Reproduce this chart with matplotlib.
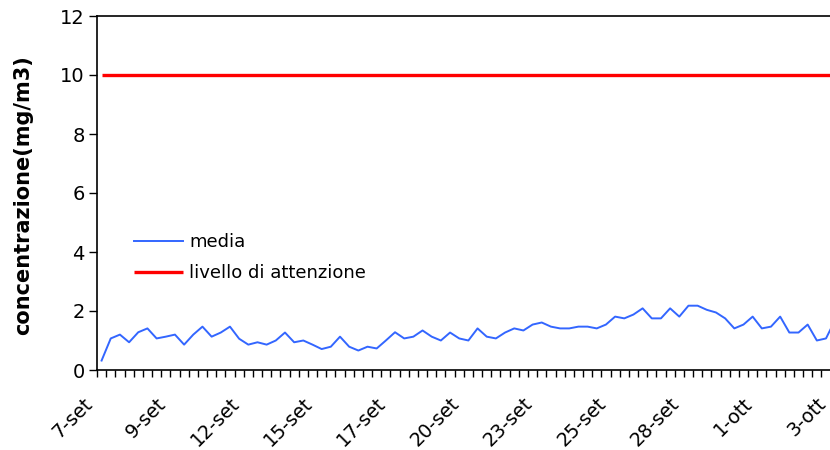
import matplotlib
matplotlib.use('Agg')
import matplotlib.pyplot as plt
import matplotlib.transforms as mtransforms
import numpy as np

# mean concentration, one value every 8 hours starting 7-set
media = [0.32, 1.07, 1.20, 0.94, 1.28, 1.41, 1.07, 1.13, 1.20, 0.86,
         1.20, 1.47, 1.13, 1.27, 1.47, 1.06, 0.86, 0.94, 0.86, 1.00,
         1.27, 0.94, 1.00, 0.86, 0.71, 0.79, 1.13, 0.79, 0.66, 0.79,
         0.73, 1.00, 1.28, 1.07, 1.13, 1.34, 1.13, 1.00, 1.27, 1.07,
         1.00, 1.41, 1.13, 1.07, 1.27, 1.41, 1.34, 1.54, 1.61, 1.47,
         1.41, 1.41, 1.47, 1.47, 1.41, 1.54, 1.81, 1.75, 1.88, 2.09,
         1.75, 1.75, 2.09, 1.81, 2.18, 2.18, 2.04, 1.95, 1.75, 1.41,
         1.54, 1.81, 1.41, 1.47, 1.81, 1.27, 1.27, 1.54, 1.00, 1.07,
         1.70]
livello_attenzione = 10
date_labels = ['7-set', '9-set', '12-set', '15-set', '17-set', '20-set',
               '23-set', '25-set', '28-set', '1-ott', '3-ott']
label_every = 8

plt.rcParams['font.family'] = ['DejaVu Sans']

n = len(media)
step = 9.17  # px per category in the original
fig = plt.figure(figsize=(8.3, 4.5), dpi=100)
# plot area runs a bit past the right edge of the picture, like the original crop
ax = fig.add_axes([97 / 830, 80 / 450, n * step / 830, 354 / 450])

x = np.arange(n)
ax.plot(x, media, color='#3366ff', lw=1.4, label='media', zorder=3)
ax.plot(x, [livello_attenzione] * n, color='#ff0000', lw=2.4,
        label='livello di attenzione', solid_capstyle='butt')

ax.set_yticks(range(0, 13, 2))
ax.tick_params(axis='y', labelsize=14, length=6, width=1, direction='out', pad=3)

ax.set_xticks(x[::label_every])
ax.set_xticklabels(date_labels[:len(x[::label_every])], rotation=45,
                   ha='right', va='center', rotation_mode='anchor', fontsize=13.8)
ax.set_xticks(np.arange(-0.5, n, 1), minor=True)
ax.tick_params(axis='x', which='major', length=0, pad=22)
ax.tick_params(axis='x', which='minor', length=5, width=1, direction='out')
offset = mtransforms.ScaledTranslation(-12 / 100, 0, fig.dpi_scale_trans)
for lab in ax.get_xticklabels():
    lab.set_transform(lab.get_transform() + offset)

ax.set_xlim(-0.5, n - 0.5)
ax.set_ylim(0, 12)

for side in ['left', 'bottom', 'top']:
    ax.spines[side].set_linewidth(1.2)
ax.spines['right'].set_visible(False)

ax.set_ylabel('concentrazione(mg/m3)', fontsize=15, fontweight='bold')
ax.yaxis.set_label_coords(-0.087 * 733 / (n * step), 0.495)

ax.legend(loc='upper left', bbox_to_anchor=(118 / 830, 1 - 217 / 450),
          bbox_transform=fig.transFigure, frameon=False, fontsize=13,
          handlelength=2.7, handletextpad=0.35, labelspacing=0.7)

fig.savefig('out.png', dpi=100)
